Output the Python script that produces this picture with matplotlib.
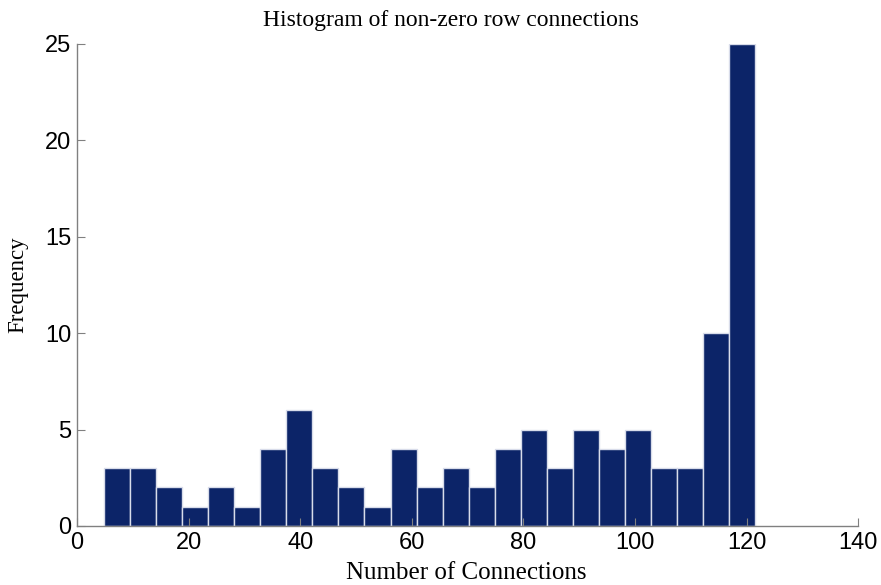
import numpy as np
import matplotlib
matplotlib.use("Agg")
import matplotlib.pyplot as plt

counts = [3, 3, 2, 1, 2, 1, 4, 6, 3, 2, 1, 4, 2, 3, 2, 4, 5, 3, 5, 4, 5, 3, 3, 10, 25]
bin_start = 4.8
bin_end = 121.6
xticks = [0, 20, 40, 60, 80, 100, 120, 140]
yticks = [0, 5, 10, 15, 20, 25]

edges = np.linspace(bin_start, bin_end, len(counts) + 1)

fig = plt.figure(figsize=(8.81, 5.85), dpi=100)
ax = fig.add_axes([0.0874, 0.1009, 0.8866, 0.8239])
ax.hist(edges[:-1], bins=edges, weights=counts, color="#0c2468",
        edgecolor="#d8dcea", linewidth=1.0)
ax.set_xlim(0, 140)
ax.set_ylim(0, 25)
ax.set_xticks(xticks)
ax.set_yticks(yticks)
for s in ["top", "right"]:
    ax.spines[s].set_visible(False)
for s in ["left", "bottom"]:
    ax.spines[s].set_color("#808080")
    ax.spines[s].set_linewidth(1.0)
ax.tick_params(direction="in", length=6, color="#808080", labelsize=17, pad=4)
for lab in ax.get_xticklabels() + ax.get_yticklabels():
    lab.set_fontfamily("Liberation Sans")
ax.set_xlabel("Number of Connections", family="Liberation Serif", fontsize=18)
ax.set_ylabel("Frequency", family="Liberation Serif", fontsize=16.5)
ax.xaxis.set_label_coords(0.498, -0.075)
ax.yaxis.set_label_coords(-0.062, 0.5)
ax.set_title("Histogram of non-zero row connections", family="Liberation Serif",
             fontsize=17, pad=13, x=0.479)
fig.savefig("out.png", dpi=100)
